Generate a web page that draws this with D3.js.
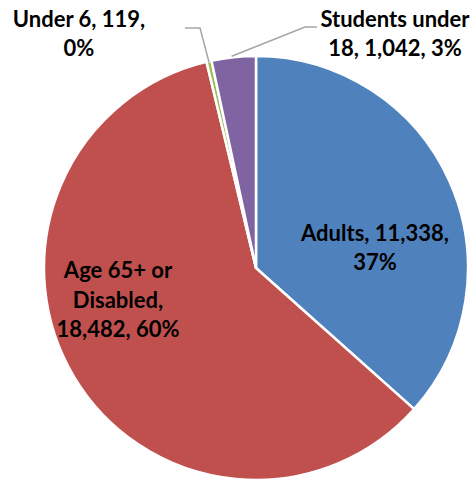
<!DOCTYPE html>
<html><head><meta charset="utf-8">
<script src="https://cdn.jsdelivr.net/npm/d3@7"></script>
<style>html,body{margin:0;padding:0;background:#fff;}</style>
</head><body>
<svg id="c" width="473" height="479"></svg>
<script>
const categories = ["Adults", "Age 65+ or Disabled", "Under 6", "Students under 18"];
const values = [11338, 18482, 119, 1042];
const colors = ["#4F81BD", "#C0504D", "#9BBB59", "#8064A2"];
const labelLines = [
  ["Adults, 11,338,", "37%"],
  ["Age 65+ or", "Disabled,", "18,482, 60%"],
  ["Under 6, 119,", "0%"],
  ["Students under", "18, 1,042, 3%"]
];

const svg = d3.select("#c");
const cx = 256, cy = 268, r = 212;
const pie = d3.pie().sort(null).value(d => d)(values);
const arc = d3.arc().innerRadius(0).outerRadius(r);
const g = svg.append("g").attr("transform", `translate(${cx},${cy})`);

g.selectAll("path").data(pie).join("path")
  .attr("d", arc)
  .attr("fill", (d, i) => colors[i])
  .attr("stroke", "#fff").attr("stroke-width", 2.5).attr("stroke-linejoin", "miter");

function edgePoint(d, frac) {
  const a = d.startAngle + (d.endAngle - d.startAngle) * frac;
  return [Math.sin(a) * r, -Math.cos(a) * r];
}
const u6 = edgePoint(pie[2], 0.5);
const st = edgePoint(pie[3], 0.5);
const lines = [
  [[185 - cx, 28 - cy], [200 - cx, 28 - cy], [u6[0], u6[1] + 1]],
  [[st[0] - 2, st[1] - 1], [305 - cx, 27 - cy], [317 - cx, 27 - cy]]
];
g.selectAll("polyline").data(lines).join("polyline")
  .attr("points", d => d.map(p => p.join(",")).join(" "))
  .attr("fill", "none").attr("stroke", "#A6A6A6").attr("stroke-width", 1.5);

const labelPos = [[375, 248], [118, 300], [79, 34], [395, 34]];
const lh = 29.5;
labelLines.forEach((ls, i) => {
  const t = svg.append("text")
    .attr("text-anchor", "middle")
    .attr("font-family", "Lato, 'Open Sans', sans-serif")
    .attr("font-weight", "bold")
    .attr("font-size", 22)
    .attr("fill", "#000");
  const y0 = labelPos[i][1] - (ls.length - 1) * lh / 2;
  ls.forEach((s, j) => {
    t.append("tspan").attr("x", labelPos[i][0]).attr("y", y0 + j * lh).attr("dy", "0.35em").text(s);
  });
});
</script>
</body></html>
